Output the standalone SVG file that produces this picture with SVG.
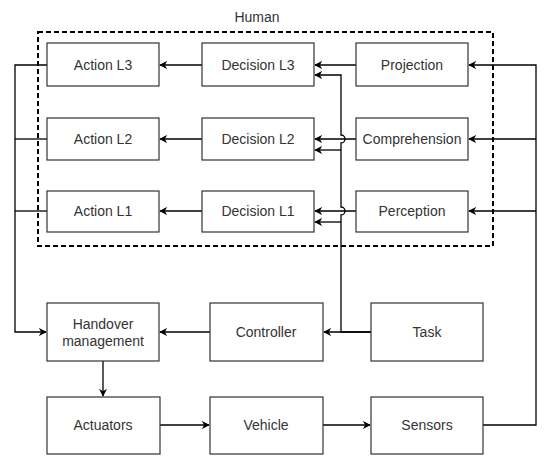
<svg xmlns="http://www.w3.org/2000/svg" width="550" height="466" viewBox="0 0 550 466">
<defs>
<style>
.box{fill:#fff;stroke:#333;stroke-width:1.2}
.t{font-family:"Liberation Sans",Arial,sans-serif;font-size:14px;fill:#333;text-anchor:middle;dominant-baseline:central}
.c{fill:none;stroke:#000;stroke-width:1.3}
</style>
<marker id="a" viewBox="0 0 10 10" refX="9" refY="5" markerWidth="8" markerHeight="8" markerUnits="userSpaceOnUse" orient="auto">
<path d="M0,0 L10,5 L0,10 L3,5 Z" fill="#000"/>
</marker>
</defs>
<rect width="550" height="466" fill="#fff"/>
<g id="human">
<rect x="38" y="32" width="455" height="214" fill="none" stroke="#000" stroke-width="2" stroke-dasharray="5,3"/>
<text class="t" x="257" y="17">Human</text>
</g>
<g id="connectors">
<path class="c" d="M202,65 H160" marker-end="url(#a)"/>
<path class="c" d="M202,139 H160" marker-end="url(#a)"/>
<path class="c" d="M202,211 H160" marker-end="url(#a)"/>
<path class="c" d="M356,65 H315" marker-end="url(#a)"/>
<path class="c" d="M356,139 H315" marker-end="url(#a)"/>
<path class="c" d="M356,211 H315" marker-end="url(#a)"/>
<path class="c" d="M371,332 H341 V215 A4,4 0 0 0 341,207 V143 A4,4 0 0 0 341,135 V75 H315" marker-end="url(#a)"/>
<path class="c" d="M341,150 H315" marker-end="url(#a)"/>
<path class="c" d="M341,222 H315" marker-end="url(#a)"/>
<path class="c" d="M371,332 H324" marker-end="url(#a)"/>
<path class="c" d="M47,65 H15 V332 H46" marker-end="url(#a)"/>
<path class="c" d="M47,139 H15"/>
<path class="c" d="M47,211 H15"/>
<path class="c" d="M210,332 H160" marker-end="url(#a)"/>
<path class="c" d="M103,361 V396" marker-end="url(#a)"/>
<path class="c" d="M160,425 H209" marker-end="url(#a)"/>
<path class="c" d="M323,425 H370" marker-end="url(#a)"/>
<path class="c" d="M483,425 H536 V65 H469" marker-end="url(#a)"/>
<path class="c" d="M536,139 H469" marker-end="url(#a)"/>
<path class="c" d="M536,211 H469" marker-end="url(#a)"/>
</g>
<g id="action3"><rect class="box" x="47" y="43" width="112" height="43"/><text class="t" x="103" y="65">Action L3</text></g>
<g id="action2"><rect class="box" x="47" y="118" width="112" height="42"/><text class="t" x="103" y="139">Action L2</text></g>
<g id="action1"><rect class="box" x="47" y="191" width="112" height="41"/><text class="t" x="103" y="211">Action L1</text></g>
<g id="decision3"><rect class="box" x="202" y="43" width="112" height="43"/><text class="t" x="258" y="65">Decision L3</text></g>
<g id="decision2"><rect class="box" x="202" y="118" width="112" height="42"/><text class="t" x="258" y="139">Decision L2</text></g>
<g id="decision1"><rect class="box" x="202" y="191" width="112" height="41"/><text class="t" x="258" y="211">Decision L1</text></g>
<g id="projection"><rect class="box" x="356" y="43" width="112" height="43"/><text class="t" x="412" y="65">Projection</text></g>
<g id="comprehension"><rect class="box" x="356" y="118" width="112" height="42"/><text class="t" x="412" y="139">Comprehension</text></g>
<g id="perception"><rect class="box" x="356" y="191" width="112" height="41"/><text class="t" x="412" y="211">Perception</text></g>
<g id="handover"><rect class="box" x="47" y="303" width="112" height="58"/><text class="t" x="103" y="324">Handover</text><text class="t" x="103" y="341">management</text></g>
<g id="controller"><rect class="box" x="210" y="303" width="113" height="58"/><text class="t" x="266" y="332">Controller</text></g>
<g id="task"><rect class="box" x="371" y="303" width="112" height="58"/><text class="t" x="427" y="332">Task</text></g>
<g id="actuators"><rect class="box" x="47" y="397" width="113" height="57"/><text class="t" x="103" y="425">Actuators</text></g>
<g id="vehicle"><rect class="box" x="210" y="397" width="113" height="57"/><text class="t" x="266" y="425">Vehicle</text></g>
<g id="sensors"><rect class="box" x="371" y="397" width="112" height="57"/><text class="t" x="427" y="425">Sensors</text></g>
</svg>
